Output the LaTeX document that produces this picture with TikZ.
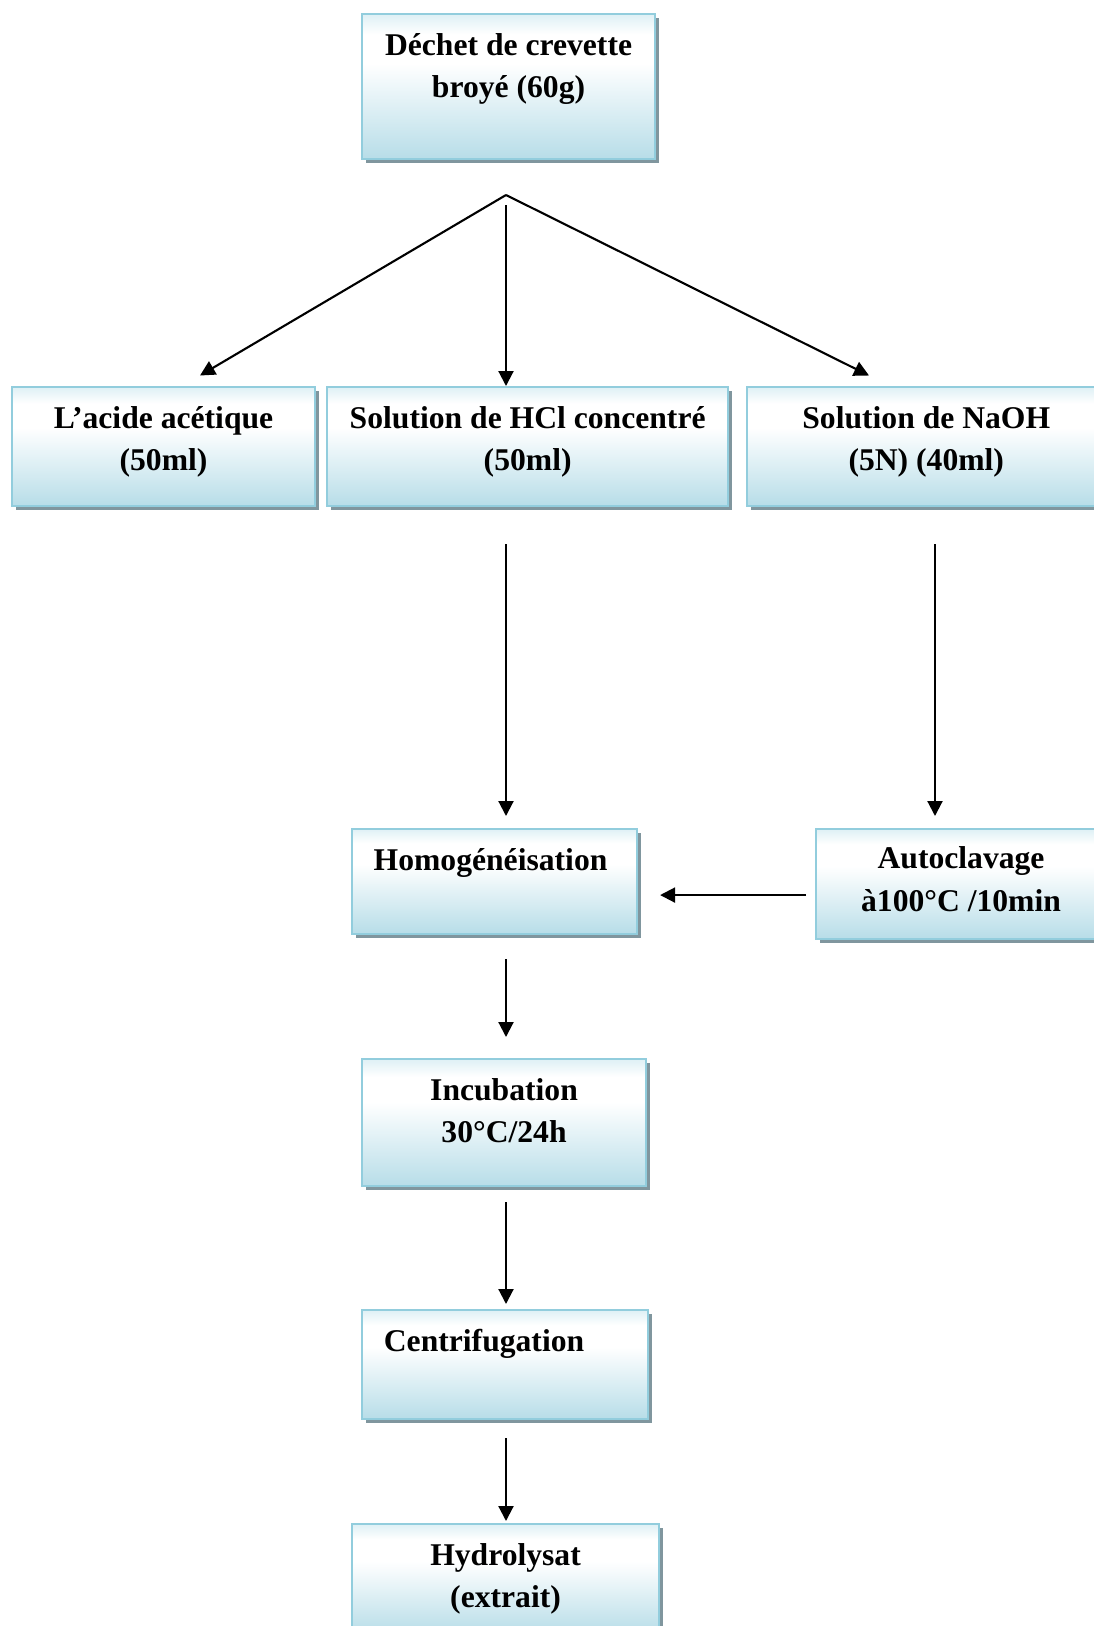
\documentclass[tikz,border=0pt]{standalone}
\usepackage{fontspec}
\setmainfont{Liberation Serif}
\usetikzlibrary{arrows.meta,positioning,shadows}
\definecolor{boxblue}{RGB}{183,221,232}
\definecolor{boxline}{RGB}{146,205,221}
\definecolor{boxtop}{RGB}{222,240,245}
\definecolor{shadowgray}{RGB}{128,150,158}
\pgfdeclareverticalshading{boxshade}{100bp}{color(0bp)=(boxblue); color(25bp)=(boxblue); color(58bp)=(white); color(68bp)=(white); color(75bp)=(boxtop); color(100bp)=(boxtop)}

\begin{document}
\begin{tikzpicture}[
  box/.style={draw=boxline, line width=1.2pt, shade, shading=boxshade, drop shadow={shadow xshift=0.08cm, shadow yshift=-0.08cm, fill=shadowgray, opacity=1}, inner sep=0pt, anchor=north west},
  lbl/.style={font=\fontsize{18}{24}\selectfont\bfseries, align=center, inner sep=0pt, anchor=base},
  arr/.style={-{Triangle[length=0.3cm, width=0.3cm]}, line width=1.2pt}
]
\useasboundingbox (0,0) rectangle (21.88,-32.52);

% boxes
\node[box, minimum width=5.86cm, minimum height=2.90cm] (dechet) at (7.22,-0.26) {};
\node[box, minimum width=6.06cm, minimum height=2.38cm] (acide) at (0.22,-7.72) {};
\node[box, minimum width=8.02cm, minimum height=2.38cm, right=0.20cm of acide] (hcl) {};
\node[box, minimum width=7.30cm, minimum height=2.38cm, right=0.34cm of hcl] (naoh) {};
\node[box, minimum width=5.70cm, minimum height=2.10cm] (homog) at (7.01,-16.55) {};
\node[box, minimum width=5.80cm, minimum height=2.20cm] (autoc) at (16.30,-16.56) {};
\node[box, minimum width=5.68cm, minimum height=2.54cm] (incub) at (7.22,-21.16) {};
\node[box, minimum width=5.72cm, minimum height=2.18cm] (centri) at (7.22,-26.18) {};
\node[box, minimum width=6.14cm, minimum height=2.20cm] (hydro) at (7.02,-30.46) {};

% texts (base = last line)
\node[lbl] (dechet-t) at ([yshift=-1.69cm]dechet.north) {Déchet de crevette\\broyé (60g)};
\node[lbl] (acide-t) at ([yshift=-1.69cm]acide.north) {L’acide acétique\\(50ml)};
\node[lbl] (hcl-t) at ([yshift=-1.69cm]hcl.north) {Solution de HCl concentré\\(50ml)};
\node[lbl] (naoh-t) at ([xshift=-0.07cm, yshift=-1.69cm]naoh.north) {Solution de NaOH\\(5N) (40ml)};
\node[lbl] (homog-t) at ([xshift=-0.07cm, yshift=-0.85cm]homog.north) {Homogénéisation};
\node[lbl] (autoc-t) at ([yshift=-1.66cm]autoc.north) {Autoclavage\\à100°C /10min};
\node[lbl] (incub-t) at ([yshift=-1.69cm]incub.north) {Incubation\\30°C/24h};
\node[lbl] (centri-t) at ([xshift=-0.42cm, yshift=-0.85cm]centri.north) {Centrifugation};
\node[lbl] (hydro-t) at ([yshift=-1.69cm]hydro.north) {Hydrolysat\\(extrait)};

% arrows
\coordinate (fork) at (10.12,-3.90);
\coordinate (forkA) at (4.00,-7.51);
\coordinate (forkC) at (17.38,-7.51);
\draw[arr] (fork) -- (forkA);
\draw[arr, shorten <=0.2cm] (fork) -- (fork |- hcl.north);
\draw[arr] (fork) -- (forkC);
\draw[arr, shorten <=0.74cm, shorten >=0.23cm] (fork |- hcl.south) -- (fork |- homog.north);
\draw[arr, shorten <=0.74cm, shorten >=0.24cm] (18.70,0 |- naoh.south) -- (18.70,0 |- autoc.north);
\draw[arr, shorten <=0.18cm, shorten >=0.45cm] ([yshift=-0.22cm]autoc.west) -- ([yshift=-0.22cm]autoc.west -| homog.east);
\draw[arr, shorten <=0.49cm, shorten >=0.42cm] (fork |- homog.south) -- (fork |- incub.north);
\draw[arr, shorten <=0.30cm, shorten >=0.10cm] (fork |- incub.south) -- (fork |- centri.north);
\draw[arr, shorten <=0.36cm, shorten >=0.04cm] (fork |- centri.south) -- (fork |- hydro.north);
\end{tikzpicture}
\end{document}
